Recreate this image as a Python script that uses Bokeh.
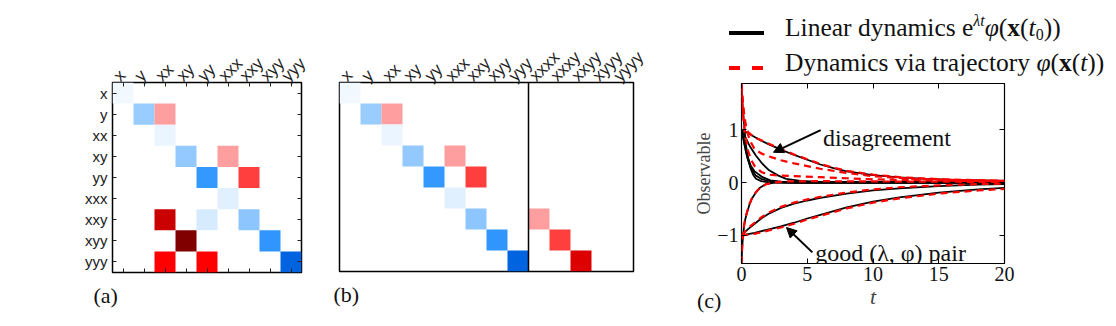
import math
import numpy as np
from bokeh.plotting import figure
from bokeh.models import (Range1d, LinearColorMapper, ColumnDataSource, Span, Title,
                          LinearAxis, FixedTicker, Arrow, NormalHead, Div)
from bokeh.layouts import row, column
from bokeh.transform import transform
from bokeh.core.properties import value
from bokeh.embed import file_html
from bokeh.resources import INLINE

# ---------------- data: panel (a) and (b) matrices ----------------
terms = ["x", "y", "xx", "xy", "yy", "xxx", "xxy", "xyy", "yyy"]
terms_ext = terms + ["xxxx", "xxxy", "xxyy", "xyyy", "yyyy"]

a_row = ["x", "y", "y", "xx", "xy", "xy", "yy", "yy", "xxx", "xxy", "xxy", "xxy", "xyy", "xyy", "yyy", "yyy", "yyy"]
a_col = ["x", "y", "xx", "xx", "xy", "xxx", "yy", "xxy", "xxx", "xx", "yy", "xxy", "xy", "xyy", "xx", "yy", "yyy"]
a_val = [-0.15, -1.0, 1.0, -0.2, -1.05, 1.0, -2.0, 2.0, -0.3, 3.2, -0.4, -1.1, 4.0, -2.05, 2.67, 2.67, -3.0]

b_row = ["x", "y", "y", "xx", "xy", "xy", "yy", "yy", "xxx", "xxy", "xxy", "xyy", "xyy", "yyy", "yyy"]
b_col = ["x", "y", "xx", "xx", "xy", "xxx", "yy", "xxy", "xxx", "xxy", "xxxx", "xyy", "xxxy", "yyy", "xxyy"]
b_val = [-0.15, -1.0, 1.0, -0.2, -1.05, 1.0, -2.0, 2.0, -0.3, -1.1, 1.0, -2.05, 2.0, -3.0, 3.0]

# ---------------- data: panel (c) curves ----------------
# black: linear dynamics
t_c1 = [0, 0.5, 1, 1.5, 2, 3, 4, 5, 6, 7, 8, 10, 12, 14, 16, 18, 20]
v_c1 = [1.0, 0.93, 0.86, 0.79, 0.73, 0.62, 0.52, 0.43, 0.34, 0.27, 0.21, 0.14, 0.095, 0.07, 0.05, 0.04, 0.03]
t_f1 = [0, 0.1, 0.2, 0.33, 0.5, 0.7, 0.9, 1.1, 1.5, 2, 3, 20]
v_f1 = [1.77, 1.4, 1.1, 0.72, 0.45, 0.26, 0.14, 0.07, 0.025, 0.005, 0, 0]
t_f2 = [0, 0.15, 0.3, 0.46, 0.7, 1.09, 1.5, 1.85, 2.5, 3.5, 20]
v_f2 = [1.0, 0.82, 0.62, 0.45, 0.28, 0.13, 0.07, 0.04, 0.015, 0, 0]
t_f3 = [0, 0.2, 0.45, 0.7, 1, 1.6, 2.2, 3, 4, 20]
v_f3 = [1.0, 0.75, 0.5, 0.32, 0.21, 0.1, 0.04, 0.015, 0, 0]
t_f4 = [0, 0.3, 0.6, 1.09, 1.6, 2.1, 2.8, 3.4, 4.5, 6, 20]
v_f4 = [1.0, 0.85, 0.7, 0.51, 0.35, 0.23, 0.13, 0.07, 0.03, 0.01, 0]
t_fl = [0, 0.05, 0.1, 0.2, 0.3, 0.45, 0.6, 0.8, 1.09, 1.4, 1.85, 2.5, 3, 20]
v_fl = [-1.53, -1.25, -1.05, -0.82, -0.68, -0.55, -0.42, -0.3, -0.19, -0.1, -0.03, 0, 0, 0]
t_l1 = [0, 0.5, 1, 1.5, 2, 3, 4, 5, 6, 8, 10, 12, 15, 18, 20]
v_l1 = [-1.0, -0.88, -0.78, -0.68, -0.6, -0.48, -0.4, -0.34, -0.29, -0.21, -0.15, -0.11, -0.07, -0.04, -0.03]
t_l2 = [0, 1, 2, 3, 4, 5, 6, 8, 10, 12, 15, 18, 20]
v_l2 = [-1.0, -0.95, -0.89, -0.83, -0.76, -0.68, -0.61, -0.47, -0.36, -0.28, -0.19, -0.13, -0.1]

# red dashed: dynamics via trajectory
t_r1 = [0, 0.1, 0.2, 0.35, 0.5, 0.8, 1.2, 1.5, 2, 3, 4, 5, 6, 7, 8, 10, 12, 14, 16, 18, 20]
v_r1 = [1.87, 1.45, 1.2, 1.02, 0.95, 0.89, 0.83, 0.8, 0.74, 0.63, 0.53, 0.44, 0.35, 0.28, 0.22, 0.15, 0.1, 0.075, 0.055, 0.045, 0.035]
t_d1 = [0, 0.1, 0.2, 0.35, 0.5, 0.75, 1, 1.5, 2, 2.5, 3, 4, 5, 6, 8, 10, 13, 16, 20]
v_d1 = [1.87, 1.55, 1.3, 1.05, 0.9, 0.74, 0.63, 0.55, 0.5, 0.46, 0.42, 0.36, 0.31, 0.26, 0.18, 0.12, 0.07, 0.05, 0.03]
t_d2 = [0, 0.1, 0.25, 0.5, 0.75, 1, 1.5, 2, 3, 4, 6, 8, 10, 13, 16, 20]
v_d2 = [1.75, 1.3, 0.95, 0.6, 0.42, 0.31, 0.2, 0.15, 0.13, 0.12, 0.1, 0.08, 0.06, 0.045, 0.035, 0.02]
t_rl = [0, 0.05, 0.1, 0.2, 0.3, 0.45, 0.6, 0.8, 1.1, 1.4, 1.9, 2.5, 3.5, 6, 10, 20]
v_rl = [-1.53, -1.22, -1.02, -0.8, -0.66, -0.53, -0.41, -0.29, -0.18, -0.1, -0.03, 0.0, 0.02, 0.025, 0.02, 0.01]
t_rl1 = [0, 0.5, 1, 1.5, 2, 3, 4, 5, 6, 8, 10, 12, 15, 18, 20]
v_rl1 = [-1.0, -0.86, -0.76, -0.66, -0.58, -0.46, -0.38, -0.32, -0.27, -0.19, -0.13, -0.09, -0.055, -0.03, -0.02]
t_rl2 = [0, 1, 2, 3, 4, 5, 6, 8, 10, 12, 15, 18, 20]
v_rl2 = [-1.0, -0.97, -0.91, -0.85, -0.78, -0.7, -0.63, -0.49, -0.38, -0.3, -0.21, -0.15, -0.12]

x_ticks_c = [0, 5, 10, 15, 20]
y_ticks_c = [-1, 0, 1]

# annotations of panel (c): [x_start, y_start, x_end, y_end]
arrow_dis = [6.02, 0.99, 2.43, 0.57]
arrow_good = [5.39, -1.32, 3.42, -0.85]
note_x = [6.2, 5.6]
note_y = [0.85, -1.34]
note_txt = ["disagreement", "good (λ, φ) pair"]

# ---------------- colour mapping ----------------
anch_v = [-4, -3, -2, 0, 2.67, 4]
anch_r = [0, 0, 51, 255, 255, 128]
anch_g = [60, 100, 153, 255, 0, 0]
anch_b = [170, 225, 255, 255, 0, 0]
vs = np.linspace(-4, 4, 256)
palette = ["#%02x%02x%02x" % (int(round(np.interp(v, anch_v, anch_r))),
                              int(round(np.interp(v, anch_v, anch_g))),
                              int(round(np.interp(v, anch_v, anch_b)))) for v in vs]
mapper = LinearColorMapper(palette=palette, low=-4, high=4)

SANS = "Liberation Sans"
SERIF = "Liberation Serif"
LABEL_SHIFT = 0.3  # shift of rotated column labels, in cells


def centers(factors):
    return [i + 0.5 for i in range(len(factors))]


def tick_axis(p, loc, factors, labels=False, ticks=True, **kw):
    pos = centers(factors)
    ax = LinearAxis(ticker=FixedTicker(ticks=pos), **kw)
    ax.axis_line_color = None
    ax.major_tick_in = 4 if ticks else 0
    ax.major_tick_out = 0
    ax.major_tick_line_color = "#222222" if ticks else None
    ax.minor_tick_line_color = None
    ax.major_label_text_font = SANS
    ax.major_label_text_color = "#222222"
    if labels:
        ax.major_label_overrides = {q: f for q, f in zip(pos, factors)}
        ax.major_label_text_font_size = "15px"
        ax.major_label_standoff = 5
    else:
        ax.major_label_text_font_size = "0px"
        ax.major_label_standoff = 0
    p.add_layout(ax, loc)
    return ax


def add_col_labels(p, factors):
    n = len(factors)
    p.extra_x_ranges = {"lab": Range1d(LABEL_SHIFT, n + LABEL_SHIFT)}
    ax = tick_axis(p, "above", factors, labels=True, ticks=False, x_range_name="lab")
    ax.major_label_text_font_size = "17px"
    ax.major_label_standoff = 4
    ax.major_label_orientation = math.pi / 4


def matrix_fig(cols, rows, vals, col_factors, row_factors, **kw):
    p = figure(toolbar_location=None, output_backend="svg", tools="",
               x_range=Range1d(0, len(col_factors)), y_range=Range1d(len(row_factors), 0),
               x_axis_type=None, y_axis_type=None, **kw)
    p.grid.visible = False
    p.outline_line_color = "black"
    p.outline_line_width = 1.5
    src = ColumnDataSource(dict(x=[col_factors.index(c) + 0.5 for c in cols],
                                y=[row_factors.index(r) + 0.5 for r in rows], val=vals))
    p.rect(x="x", y="y", width=1, height=1, source=src,
           fill_color=transform("val", mapper), line_color=None)
    return p


# ---------------- panel (a) ----------------
pa = matrix_fig(a_col, a_row, a_val, terms, terms, frame_width=189, frame_height=190,
                min_border_left=112, min_border_right=21, min_border_top=82, min_border_bottom=48)
tick_axis(pa, "above", terms)
tick_axis(pa, "below", terms)
tick_axis(pa, "right", terms)
tick_axis(pa, "left", terms, labels=True)
add_col_labels(pa, terms)
pa.add_layout(Title(text="(a)", align="left", offset=-19, standoff=17, text_font=SERIF, text_font_size="22px",
                    text_font_style="normal", text_color="#111111"), "below")

# ---------------- panel (b) ----------------
pb = matrix_fig(b_col, b_row, b_val, terms_ext, terms, frame_width=294, frame_height=189,
                min_border_left=17, min_border_right=17, min_border_top=82, min_border_bottom=49)
add_col_labels(pb, terms_ext)
pb.add_layout(Span(location=len(terms), dimension="height", line_color="black", line_width=1.5))
pb.add_layout(Title(text="(b)", align="left", offset=-6, standoff=17, text_font=SERIF, text_font_size="22px",
                    text_font_style="normal", text_color="#111111"), "below")

# ---------------- legend strip for (c) ----------------
legend_html = (
    '<div style="position:relative;width:458px;height:75px;font-family:\'Liberation Serif\';'
    'font-size:25.5px;color:#111;">'
    '<div style="position:absolute;left:79px;top:31px;width:35px;height:4px;background:#000;"></div>'
    '<div style="position:absolute;left:79px;top:66px;width:11px;height:4px;background:#f00;"></div>'
    '<div style="position:absolute;left:102px;top:66px;width:11px;height:4px;background:#f00;"></div>'
    '<div style="position:absolute;left:135px;top:15px;white-space:nowrap;line-height:25px;">'
    'Linear dynamics e<span style="font-size:16px;position:relative;top:-10px;"><i>λt</i></span>'
    '<i>φ</i>(<b>x</b>(<i>t</i><span style="font-size:16px;position:relative;top:4px;">0</span>))</div>'
    '<div style="position:absolute;left:135px;top:50px;white-space:nowrap;line-height:25px;">'
    'Dynamics via trajectory <i>φ</i>(<b>x</b>(<i>t</i>))</div>'
    '</div>'
)
legend_div = Div(text=legend_html, width=458, height=75, margin=0)

# ---------------- panel (c) ----------------
pc = figure(toolbar_location=None, output_backend="svg", tools="",
            x_range=Range1d(0, 20), y_range=Range1d(-1.53, 1.87), frame_width=263, frame_height=180,
            min_border_left=91, min_border_right=104, min_border_top=8, min_border_bottom=52)
pc.grid.visible = False
pc.outline_line_color = "black"
pc.outline_line_width = 1.2
blacks = [(t_c1, v_c1), (t_f1, v_f1), (t_f2, v_f2), (t_f3, v_f3), (t_f4, v_f4),
          (t_fl, v_fl), (t_l1, v_l1), (t_l2, v_l2)]
reds = [(t_r1, v_r1), (t_d1, v_d1), (t_d2, v_d2), (t_rl, v_rl), (t_rl1, v_rl1), (t_rl2, v_rl2)]
for tt, vv in blacks:
    pc.line(tt, vv, line_color="black", line_width=1.8)
for tt, vv in reds:
    pc.line(tt, vv, line_color="red", line_width=2.2, line_dash="7 5")

for ax in (pc.xaxis[0], pc.yaxis[0]):
    ax.axis_line_color = None
    ax.major_tick_in = 5
    ax.major_tick_out = 0
    ax.minor_tick_line_color = None
    ax.major_label_text_font = SERIF
    ax.major_label_text_font_size = "20px"
    ax.major_label_text_color = "#111111"
    ax.major_label_standoff = 3
pc.xaxis[0].ticker = FixedTicker(ticks=x_ticks_c)
pc.yaxis[0].ticker = FixedTicker(ticks=y_ticks_c)
pc.yaxis[0].major_label_overrides = {-1: "−1"}
pc.xaxis[0].axis_label = "t"
pc.xaxis[0].axis_label_text_font = SERIF
pc.xaxis[0].axis_label_text_font_size = "22px"
pc.xaxis[0].axis_label_text_font_style = "italic"
pc.xaxis[0].axis_label_standoff = 0
pc.yaxis[0].axis_label = "Observable"
pc.yaxis[0].axis_label_text_font = SERIF
pc.yaxis[0].axis_label_text_font_size = "18px"
pc.yaxis[0].axis_label_text_font_style = "normal"
pc.yaxis[0].axis_label_standoff = 0
for loc, tk in (("above", x_ticks_c), ("right", y_ticks_c)):
    ax = LinearAxis(ticker=FixedTicker(ticks=tk))
    ax.axis_line_color = None
    ax.major_tick_in = 5
    ax.major_tick_out = 0
    ax.minor_tick_line_color = None
    ax.major_label_text_font_size = "0px"
    ax.major_label_standoff = 0
    pc.add_layout(ax, loc)

pc.add_layout(Arrow(x_start=arrow_dis[0], y_start=arrow_dis[1], x_end=arrow_dis[2], y_end=arrow_dis[3],
                    line_width=2, end=NormalHead(size=10, fill_color="black", line_color="black")))
pc.add_layout(Arrow(x_start=arrow_good[0], y_start=arrow_good[1], x_end=arrow_good[2], y_end=arrow_good[3],
                    line_width=2, end=NormalHead(size=10, fill_color="black", line_color="black")))
pc.text(x=note_x, y=note_y, text=note_txt, text_font=value(SERIF), text_font_size="24px",
        text_baseline="alphabetic", text_color="#111111")

c_div = Div(text='<div style="margin-left:47px;font-family:\'Liberation Serif\';font-size:22px;'
                 'line-height:22px;color:#111;">(c)</div>',
            width=458, height=22, margin=(-25, 0, 0, 0))

layout = row(pa, pb, column(legend_div, pc, c_div))
open("out.html", "w").write(file_html(layout, INLINE))
